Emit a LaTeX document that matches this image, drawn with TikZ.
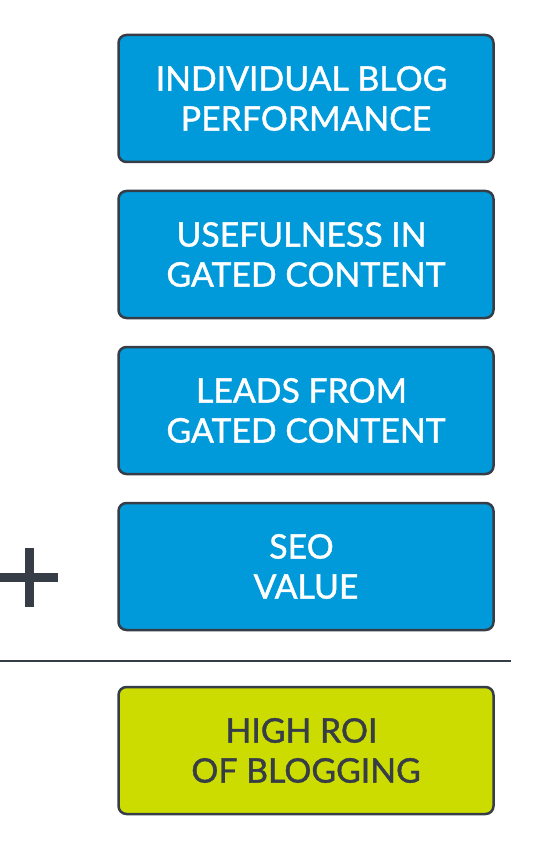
\documentclass[tikz,border=0pt]{standalone}
\usepackage{fontspec}
\setmainfont{Lato}
\newfontfamily\medfont{Lato}[FakeBold=1.2]
\newcommand{\trail}{\hspace*{9pt}}
\definecolor{boxblue}{HTML}{009ADB}
\definecolor{boxgreen}{HTML}{CCDC00}
\definecolor{edgegray}{HTML}{363D47}
\begin{document}
\begin{tikzpicture}[x=1pt,y=-1pt,
  card/.style={draw=edgegray,line width=2.5pt,rounded corners=8pt,minimum width=375pt,minimum height=127pt,align=center,font=\medfont\fontsize{33.8}{40}\selectfont,inner sep=0pt},
  bluecard/.style={card,fill=boxblue,text=white},
  greencard/.style={card,fill=boxgreen,text=edgegray}]
\useasboundingbox (0,0) rectangle (535,842);
\node[bluecard] (b1) at (306,98.5) {INDIVIDUAL BLOG\trail\\PERFORMANCE};
\node[bluecard] (b2) at (306,254.5) {USEFULNESS IN\trail\\GATED CONTENT};
\node[bluecard] (b3) at (306,410.5) {LEADS FROM\trail\\GATED CONTENT};
\node[bluecard] (b4) at (306,566.5) {SEO\trail\\VALUE};
\node[greencard] (b5) at (306,750.5) {HIGH ROI\trail\\OF BLOGGING};
\coordinate (l1) at (0,661);
\coordinate (l2) at (511,661);
\draw[edgegray,line width=2.5pt] (l1) -- (l2);
\coordinate (ph1) at (0,577.5);
\coordinate (ph2) at (58,577.5);
\coordinate (pv1) at (29.5,548);
\coordinate (pv2) at (29.5,607);
\draw[edgegray,line width=8.5pt] (ph1) -- (ph2);
\draw[edgegray,line width=8.5pt] (pv1) -- (pv2);
\end{tikzpicture}
\end{document}
